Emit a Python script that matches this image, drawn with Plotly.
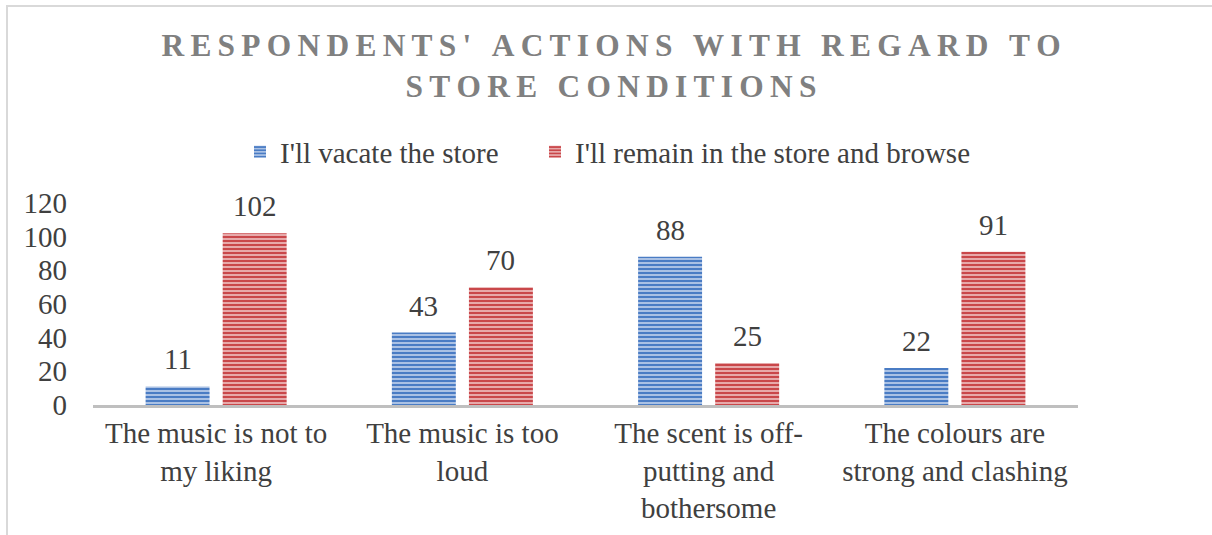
import plotly.graph_objects as go

categories = ["The music is not to<br>my liking", "The music is too<br>loud",
              "The scent is off-<br>putting and<br>bothersome", "The colours are<br>strong and clashing"]
vacate = [11, 43, 88, 22]
remain = [102, 70, 25, 91]
series_names = ["I'll vacate the store", "I'll remain in the store and browse"]
y_ticks = [0, 20, 40, 60, 80, 100, 120]
title_lines = ["RESPONDENTS' ACTIONS WITH REGARD TO", "STORE CONDITIONS"]

FONT = "Liberation Serif, Times New Roman, serif"
TXT = "#404040"
FS = 29


def spaced(s):
    # emulate letter spacing with thin spaces
    return "\u2009".join(s)


fig = go.Figure()
styles = [("#4a7cc4", "#b5c9e8"), ("#c9474a", "#ebb4b5")]
offsets = [-38.5, 38.5]
legends = ["legend", "legend2"]
for name, vals, (fg, bg), off, lg in zip(series_names, [vacate, remain], styles, offsets, legends):
    fig.add_trace(go.Bar(
        x=categories, y=vals, name=name, legend=lg,
        marker=dict(color=bg, line=dict(width=0),
                    pattern=dict(shape="-", fgcolor=fg, bgcolor=bg, size=4, solidity=0.55,
                                 fillmode="replace")),
        cliponaxis=False,
    ))
    for c, v in zip(categories, vals):
        fig.add_annotation(x=c, y=v, text=str(v), showarrow=False, xshift=off,
                           yshift=27, yanchor="middle",
                           font=dict(family=FONT, size=FS, color=TXT))

leg_common = dict(orientation="h", xanchor="left", xref="paper",
                  y=(405 - 152) / 202, yanchor="middle",
                  font=dict(family=FONT, size=FS, color=TXT), itemwidth=30,
                  bgcolor="rgba(0,0,0,0)")

fig.update_layout(
    width=1212, height=535,
    paper_bgcolor="white", plot_bgcolor="white",
    margin=dict(l=93, r=134, t=203, b=130),
    barmode="group", bargap=0.374, bargroupgap=0.17,
    title=dict(text="<br>".join(spaced(t) for t in title_lines),
               x=0.5 + 5 / 1212, xref="container", xanchor="center", y=1 - 56 / 535, yanchor="middle",
               font=dict(family=FONT, size=31.4, color="#808080", weight="bold")),
    legend=dict(x=(240 - 93) / 985, **leg_common),
    legend2=dict(x=(535 - 93) / 985, **leg_common),
    font=dict(family=FONT, size=FS, color=TXT),
    showlegend=True,
)
fig.update_xaxes(showline=True, linecolor="#bfbfbf", linewidth=3, ticks="",
                 tickfont=dict(family=FONT, size=FS, color=TXT), showgrid=False)
fig.update_yaxes(range=[0, 120], tickvals=y_ticks, showgrid=False, zeroline=False,
                 showline=False, ticks="", ticklabelstandoff=25,
                 tickfont=dict(family=FONT, size=FS, color=TXT))

# chart border (top and left edges visible; extends beyond right and bottom)
fig.add_shape(type="rect", xref="paper", yref="paper",
              x0=(7 - 93) / 985, x1=(1230 - 93) / 985,
              y0=(405 - 560) / 202, y1=(405 - 6) / 202,
              line=dict(color="#d9d9d9", width=2), fillcolor="rgba(0,0,0,0)", layer="below")

fig.write_html("out.html", config={"displayModeBar": False},
               post_script="document.body.style.margin='0';document.body.style.overflow='hidden';")
